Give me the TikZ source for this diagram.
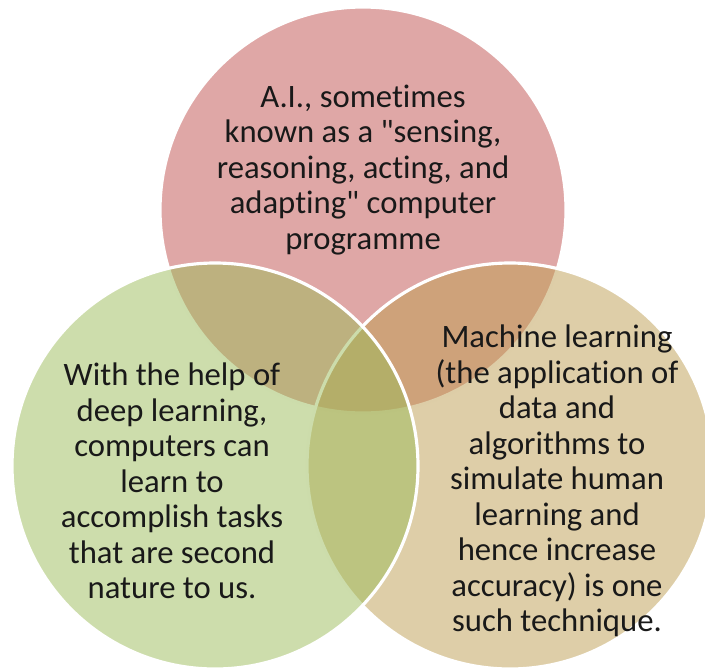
\documentclass[tikz,border=0pt]{standalone}
\usepackage{fontspec}
\setmainfont{Carlito}[Ligatures={TeXOff,NoCommon,NoContextual}]

\definecolor{airred}{HTML}{C0504D}
\definecolor{deepgreen}{HTML}{9BBB59}
\definecolor{mltan}{HTML}{BD9D51}

\begin{document}
\begin{tikzpicture}[x=0.02cm,y=-0.02cm,
	ring/.style={draw=white,line width=1.8pt,fill opacity=0.5},
	label/.style={align=center,font=\fontsize{18.6}{20.2}\selectfont,text=black!90}]
	\useasboundingbox (0,0) rectangle (705,669);
	\clip (0,0) rectangle (705,669);
	% three overlapping sets
	\filldraw[ring,fill=airred] (363,210) circle (203);
	\filldraw[ring,fill=mltan] (510,466) circle (203);
	\filldraw[ring,fill=deepgreen] (215,466) circle (203);
	% texts
	\node[label] (ai) at (363,170) {A.I., sometimes\\known as a "sensing,\\reasoning, acting, and\\adapting" computer\\programme};
	\node[label] (dl) at (172,481) {With the help of\\deep learning,\\computers can\\learn to\\accomplish tasks\\that are second\\nature to us.};
	\node[label] (ml) at (557,481) {Machine learning\\(the application of\\data and\\algorithms to\\simulate human\\learning and\\hence increase\\accuracy) is one\\such technique.};
\end{tikzpicture}
\end{document}
